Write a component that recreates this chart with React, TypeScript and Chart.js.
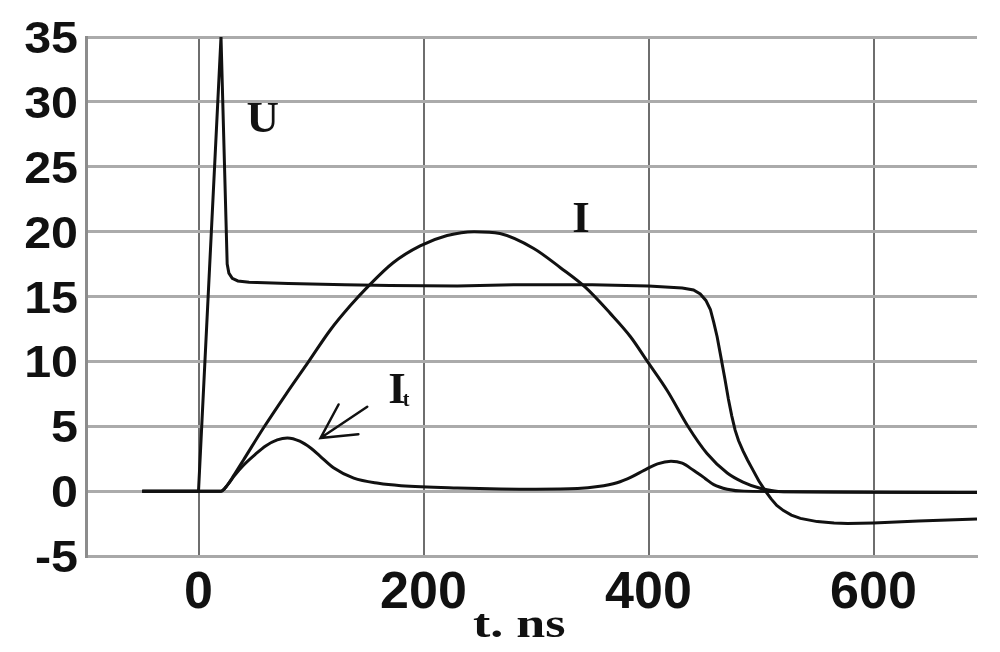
import React, { useEffect, useRef } from 'react';
import { Chart, registerables } from 'chart.js';

Chart.register(...registerables);

// ---- data (t in ns) ----
const uTime = [-50, 0, 20, 25.5, 27, 30, 35, 45, 80, 130, 170, 230, 280, 350, 400, 430, 440, 446, 451, 455, 458, 461, 464, 468, 471, 474, 477, 480, 484, 488, 493, 498, 504, 509, 514, 520, 527, 535, 550, 565, 577, 600, 640, 692];
const uValue = [0, 0, 35, 17.5, 16.8, 16.4, 16.2, 16.1, 16.0, 15.9, 15.85, 15.8, 15.9, 15.9, 15.8, 15.65, 15.5, 15.2, 14.7, 14.0, 13.0, 11.9, 10.5, 8.6, 7.1, 5.8, 4.7, 3.9, 3.1, 2.4, 1.6, 0.8, 0, -0.6, -1.1, -1.5, -1.85, -2.1, -2.35, -2.45, -2.5, -2.45, -2.3, -2.15];

const iTime = [-50, 0, 20, 26, 32, 40, 58, 78, 98, 117, 135, 151, 173, 197, 221, 245, 268, 298, 322, 344, 366, 384, 399, 417, 435, 452, 470, 484, 500, 520, 692];
const iValue = [0, 0, 0, 0.5, 1.3, 2.4, 4.9, 7.5, 10, 12.4, 14.3, 15.8, 17.6, 18.9, 19.7, 20.0, 19.85, 18.7, 17.2, 15.7, 13.7, 11.9, 10, 7.7, 5.0, 2.9, 1.4, 0.7, 0.2, -0.05, -0.1];

const itTime = [-50, 0, 20, 26, 32, 40, 50, 60, 70, 79, 90, 100, 108, 120, 138, 160, 180, 230, 300, 337, 355, 372, 385, 396, 408, 420, 430, 440, 450, 458, 470, 485, 692];
const itValue = [0, 0, 0, 0.5, 1.2, 2.0, 2.8, 3.5, 3.95, 4.1, 3.85, 3.3, 2.7, 1.8, 1.0, 0.6, 0.42, 0.25, 0.15, 0.2, 0.35, 0.65, 1.1, 1.6, 2.1, 2.3, 2.15, 1.6, 1.0, 0.5, 0.15, 0, -0.1];

const xTickValues = [0, 200, 400, 600];
const yTickValues = [-5, 0, 5, 10, 15, 20, 25, 30, 35];
const xAxisTitle = 't. ns';

// curve labels in data coordinates
const curveLabels = [
  { text: 'U', sub: '', t: 57, v: 28.8 },
  { text: 'I', sub: '', t: 340, v: 21.1 },
  { text: 'I', sub: 't', t: 176.4, v: 7.94 },
];
const arrowFrom = { t: 150, v: 6.5 };
const arrowTo = { t: 108.5, v: 4.1 };

const INK = '#111111';

const paperTextPlugin = {
  id: 'paperText',
  afterDraw(chart: any) {
    const { ctx, chartArea, scales } = chart;
    const xs = scales.x;
    const ys = scales.y;
    ctx.save();
    ctx.fillStyle = INK;
    ctx.strokeStyle = INK;
    ctx.textBaseline = 'alphabetic';

    // y tick labels
    ctx.font = 'bold 44px "Liberation Sans", Arial, sans-serif';
    ctx.textAlign = 'right';
    for (const v of yTickValues) {
      const py = ys.getPixelForValue(v);
      ctx.save();
      ctx.translate(chartArea.left - 8, py + 16);
      ctx.scale(1.1, 1);
      ctx.fillText(String(v), 0, 0);
      ctx.restore();
    }

    // x tick labels
    ctx.font = 'bold 52px "Liberation Sans", Arial, sans-serif';
    ctx.textAlign = 'center';
    for (const v of xTickValues) {
      const px = xs.getPixelForValue(v);
      ctx.save();
      ctx.translate(px, chartArea.bottom + 52);
      ctx.fillText(String(v), 0, 0);
      ctx.restore();
    }

    // x axis title
    ctx.font = 'bold 40px "Liberation Serif", "Times New Roman", serif';
    ctx.save();
    ctx.translate(xs.getPixelForValue(285), chartArea.bottom + 81);
    ctx.scale(1.3, 1);
    ctx.fillText(xAxisTitle, 0, 0);
    ctx.restore();

    // curve labels
    for (const lab of curveLabels) {
      const px = xs.getPixelForValue(lab.t);
      const py = ys.getPixelForValue(lab.v);
      ctx.font = 'bold 45px "Liberation Serif", "Times New Roman", serif';
      ctx.textAlign = 'center';
      ctx.fillText(lab.text, px, py + 15);
      if (lab.sub) {
        const w = ctx.measureText(lab.text).width;
        ctx.font = 'bold 20px "Liberation Serif", "Times New Roman", serif';
        ctx.textAlign = 'left';
        ctx.fillText(lab.sub, px + w / 2 - 3, py + 18);
      }
    }

    // arrow
    const x0 = xs.getPixelForValue(arrowFrom.t);
    const y0 = ys.getPixelForValue(arrowFrom.v);
    const x1 = xs.getPixelForValue(arrowTo.t);
    const y1 = ys.getPixelForValue(arrowTo.v);
    const ang = Math.atan2(y0 - y1, x0 - x1);
    const head = 38;
    const spread = (28 * Math.PI) / 180;
    ctx.lineWidth = 2.5;
    ctx.lineCap = 'round';
    ctx.beginPath();
    ctx.moveTo(x0, y0);
    ctx.lineTo(x1, y1);
    ctx.moveTo(x1 + head * Math.cos(ang - spread), y1 + head * Math.sin(ang - spread));
    ctx.lineTo(x1, y1);
    ctx.lineTo(x1 + head * Math.cos(ang + spread), y1 + head * Math.sin(ang + spread));
    ctx.stroke();

    ctx.restore();
  },
};

function pairs(xs: number[], ys: number[]) {
  return xs.map((x, i) => ({ x, y: ys[i] }));
}

export default function App() {
  const canvasRef = useRef<HTMLCanvasElement | null>(null);

  useEffect(() => {
    if (!canvasRef.current) return;
    const chart = new Chart(canvasRef.current, {
      type: 'line',
      data: {
        datasets: [
          {
            label: 'U',
            data: pairs(uTime, uValue),
            borderColor: INK,
            borderWidth: 3,
            pointRadius: 0,
            tension: 0,
            fill: false,
          },
          {
            label: 'I',
            data: pairs(iTime, iValue),
            borderColor: INK,
            borderWidth: 3,
            pointRadius: 0,
            cubicInterpolationMode: 'monotone',
            fill: false,
          },
          {
            label: 'It',
            data: pairs(itTime, itValue),
            borderColor: INK,
            borderWidth: 3,
            pointRadius: 0,
            cubicInterpolationMode: 'monotone',
            fill: false,
          },
        ],
      },
      options: {
        animation: false,
        responsive: true,
        maintainAspectRatio: false,
        events: [],
        layout: { padding: { left: 86, top: 37, right: 23, bottom: 96 } },
        plugins: {
          legend: { display: false },
          tooltip: { enabled: false },
          title: { display: false },
        },
        scales: {
          x: {
            type: 'linear',
            min: -100,
            max: 692,
            afterBuildTicks: (s: any) => {
              s.ticks = xTickValues.map((value) => ({ value }));
            },
            ticks: { display: false },
            grid: { color: '#6e6e6e', lineWidth: 2, drawTicks: false },
            border: { display: true, color: '#a8a8a8', width: 3 },
          },
          y: {
            type: 'linear',
            min: -5,
            max: 35,
            afterBuildTicks: (s: any) => {
              s.ticks = yTickValues.map((value) => ({ value }));
            },
            ticks: { display: false },
            grid: { color: '#ababab', lineWidth: 3, drawTicks: false },
            border: { display: true, color: '#8c8c8c', width: 3 },
          },
        },
      },
      plugins: [paperTextPlugin],
    } as any);
    return () => chart.destroy();
  }, []);

  return (
    <div style={{ position: 'fixed', left: 0, top: 0, width: 1000, height: 652, background: '#ffffff' }}>
      <canvas ref={canvasRef} />
    </div>
  );
}
